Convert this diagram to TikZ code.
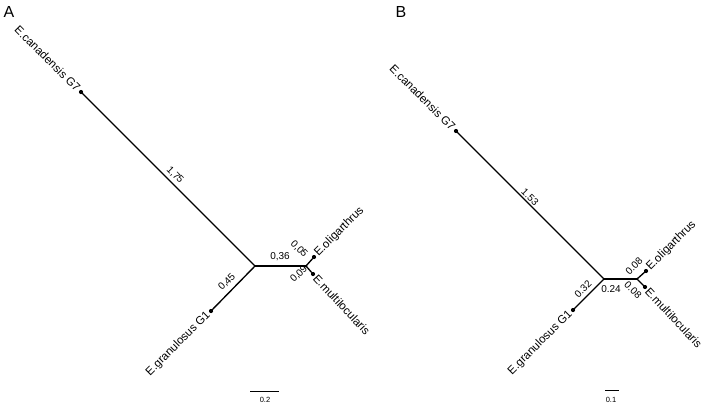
\documentclass[tikz,border=0pt]{standalone}
\usepackage{fontspec}
\setmainfont{Liberation Sans}
\begin{document}
\begin{tikzpicture}[x=1pt,y=-1pt,
  branch/.style={line width=1.35pt, line cap=round},
  tip/.style={circle, fill=black, inner sep=0pt, minimum size=4.2pt},
  taxon/.style={font=\fontsize{11.5}{13}\selectfont, inner sep=3.2pt},
  blen/.style={font=\fontsize{10}{12}\selectfont, inner sep=0pt},
  panel/.style={font=\fontsize{16}{18}\selectfont, inner sep=0pt},
  sbar/.style={line width=0.8pt},
  slab/.style={font=\fontsize{7.5}{9}\selectfont, inner sep=0pt}]
\useasboundingbox (0,0) rectangle (708,405);

% ---------------- Panel A ----------------
\node[panel] (pA) at (9,12) {A};
\coordinate (aJ) at (255,266);
\coordinate (aK) at (306,266);
\node[tip] (aG7) at (81,92) {};
\node[tip] (aG1) at (211,311) {};
\node[tip] (aOl) at (314,257) {};
\node[tip] (aMu) at (313,274) {};
\draw[branch] (aJ) -- (aG7);
\draw[branch] (aJ) -- (aG1);
\draw[branch] (aJ) -- (aK);
\draw[branch] (aK) -- (aOl);
\draw[branch] (aK) -- (aMu);

\node[taxon, anchor=east, rotate=-45] (aG7l) at (aG7) {E.canadensis G7};
\node[taxon, anchor=east, rotate=45] (aG1l) at (aG1) {E.granulosus G1};
\node[taxon, anchor=west, rotate=45] (aOll) at (aOl) {E.oligarthrus};
\node[taxon, anchor=west, rotate=-47] (aMul) at (aMu) {E.multilocularis};

\node[blen, rotate=-45] (aL1) at (175,175) {1,75};
\node[blen, rotate=45] (aL2) at (227,282) {0,45};
\node[blen] (aL3) at (280,257) {0,36};
\node[blen, rotate=-45] (aL4) at (299,249) {0,05};
\node[blen, rotate=45] (aL5) at (299,274) {0,09};

\coordinate (aS1) at (250,391);
\coordinate (aS2) at (279,391);
\draw[sbar] (aS1) -- (aS2);
\node[slab] (aSl) at (265,400) {0.2};

% ---------------- Panel B ----------------
\node[panel] (pB) at (401,12) {B};
\coordinate (bJ) at (604,279);
\coordinate (bK) at (637,279);
\node[tip] (bG7) at (456,131) {};
\node[tip] (bG1) at (573,310) {};
\node[tip] (bOl) at (646,271) {};
\node[tip] (bMu) at (645,287) {};
\draw[branch] (bJ) -- (bG7);
\draw[branch] (bJ) -- (bG1);
\draw[branch] (bJ) -- (bK);
\draw[branch] (bK) -- (bOl);
\draw[branch] (bK) -- (bMu);

\node[taxon, anchor=east, rotate=-45] (bG7l) at (bG7) {E.canadensis G7};
\node[taxon, anchor=east, rotate=45] (bG1l) at (bG1) {E.granulosus G1};
\node[taxon, anchor=west, rotate=45] (bOll) at (bOl) {E.oligarthrus};
\node[taxon, anchor=west, rotate=-47] (bMul) at (bMu) {E.multilocularis};

\node[blen, rotate=-45] (bL1) at (530,197) {1.53};
\node[blen, rotate=45] (bL2) at (583,289) {0.32};
\node[blen] (bL3) at (611,289) {0.24};
\node[blen, rotate=45] (bL4) at (634,266) {0.08};
\node[blen, rotate=-45] (bL5) at (633,290) {0.08};

\coordinate (bS1) at (605,390);
\coordinate (bS2) at (619,390);
\draw[sbar] (bS1) -- (bS2);
\node[slab] (bSl) at (611,400) {0.1};
\end{tikzpicture}
\end{document}
